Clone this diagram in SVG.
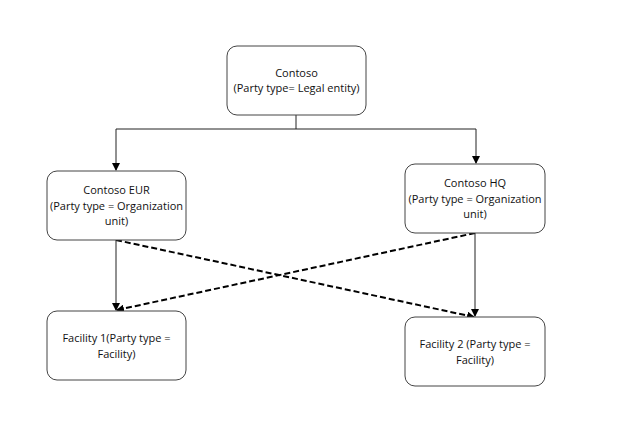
<svg xmlns="http://www.w3.org/2000/svg" width="628" height="438" viewBox="0 0 628 438">
<style>
.box{fill:#fff;stroke:#444;stroke-width:1}
.t{font-family:"Open Sans","Noto Sans",sans-serif;font-size:11px;fill:#111;text-anchor:middle}
.solid{fill:none;stroke:#222;stroke-width:1}
.dash{fill:none;stroke:#000;stroke-width:2;stroke-dasharray:6,3}
</style>
<defs>
<marker id="ah" markerWidth="8" markerHeight="8" refX="7" refY="4" orient="auto" markerUnits="userSpaceOnUse">
<path d="M0,0 L8,4 L0,8 Z" fill="#000"/>
</marker>
</defs>
<rect width="628" height="438" fill="#fff"/>
<g id="connectors">
<path class="solid" d="M296,115 V129 M116,129 H476"/>
<path class="solid" d="M116,129 V170" marker-end="url(#ah)"/>
<path class="solid" d="M476,129 V163" marker-end="url(#ah)"/>
<path class="solid" d="M116,240 V310" marker-end="url(#ah)"/>
<path class="solid" d="M475,233 V316" marker-end="url(#ah)"/>
<path class="dash" d="M116,240 L474,317" marker-end="url(#ah)"/>
<path class="dash" d="M475,233 L117,310" marker-end="url(#ah)"/>
</g>
<g id="contoso">
<rect class="box" x="227" y="46" width="139" height="69" rx="10"/>
<text class="t" x="296.5" y="77">Contoso</text>
<text class="t" x="296.5" y="92">(Party type= Legal entity)</text>
</g>
<g id="contoso-eur">
<rect class="box" x="47" y="171" width="139" height="69" rx="10"/>
<text class="t" x="116.5" y="194">Contoso EUR</text>
<text class="t" x="116.5" y="210">(Party type = Organization</text>
<text class="t" x="116.5" y="225">unit)</text>
</g>
<g id="contoso-hq">
<rect class="box" x="405" y="164" width="140" height="69" rx="10"/>
<text class="t" x="475" y="187">Contoso HQ</text>
<text class="t" x="475" y="203">(Party type = Organization</text>
<text class="t" x="475" y="218">unit)</text>
</g>
<g id="facility-1">
<rect class="box" x="47" y="311" width="139" height="69" rx="10"/>
<text class="t" x="116.5" y="342">Facility 1(Party type =</text>
<text class="t" x="116.5" y="358">Facility)</text>
</g>
<g id="facility-2">
<rect class="box" x="405" y="317" width="140" height="69" rx="10"/>
<text class="t" x="475" y="348">Facility 2 (Party type =</text>
<text class="t" x="475" y="364">Facility)</text>
</g>
</svg>
